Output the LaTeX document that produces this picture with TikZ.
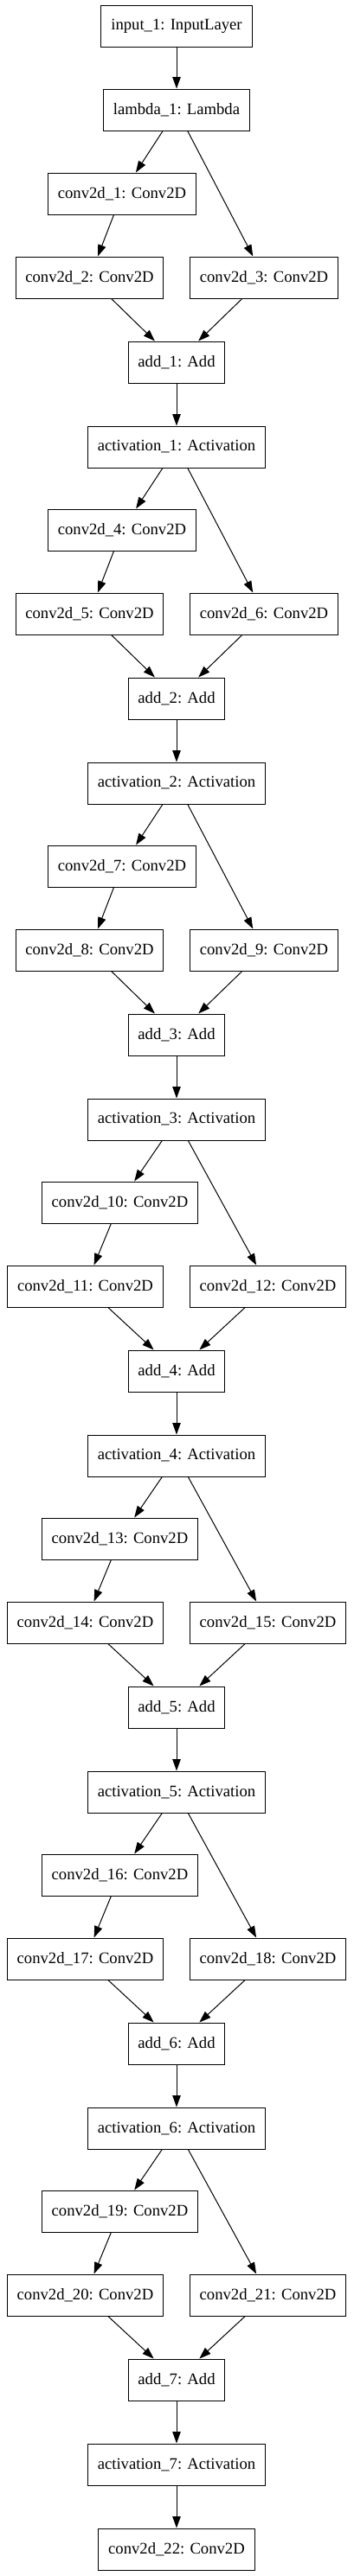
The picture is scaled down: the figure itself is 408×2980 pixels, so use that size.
\documentclass[tikz,border=0pt]{standalone}
\usepackage{fontspec}
\setmainfont{Liberation Serif}
\usetikzlibrary{arrows.meta}

\begin{document}
\begin{tikzpicture}[x=0.75pt,y=-0.75pt,
  layer/.style={draw,line width=0.75pt,minimum height=36pt,inner xsep=8.5pt,
    font=\fontsize{14}{16}\selectfont},
  flow/.style={line width=0.75pt,-{Triangle[length=10pt,width=7pt]}}]
  \useasboundingbox (0,0) rectangle (408,2980);
  % input and lambda
  \node[layer] (in1) at (204,30) {input\_1: InputLayer};
  \node[layer] (lam1) at (204,127) {lambda\_1: Lambda};
  % block 1
  \node[layer] (conv1) at (141,224) {conv2d\_1: Conv2D};
  \node[layer] (conv2) at (103.5,321) {conv2d\_2: Conv2D};
  \node[layer] (conv3) at (305,321) {conv2d\_3: Conv2D};
  \node[layer] (add1) at (204,419) {add\_1: Add};
  \node[layer] (act1) at (204,517) {activation\_1: Activation};
  % block 2
  \node[layer] (conv4) at (141,613) {conv2d\_4: Conv2D};
  \node[layer] (conv5) at (103.5,710) {conv2d\_5: Conv2D};
  \node[layer] (conv6) at (305,710) {conv2d\_6: Conv2D};
  \node[layer] (add2) at (204,808) {add\_2: Add};
  \node[layer] (act2) at (204,906) {activation\_2: Activation};
  % block 3
  \node[layer] (conv7) at (141,1002) {conv2d\_7: Conv2D};
  \node[layer] (conv8) at (103.5,1099) {conv2d\_8: Conv2D};
  \node[layer] (conv9) at (305,1099) {conv2d\_9: Conv2D};
  \node[layer] (add3) at (204,1197) {add\_3: Add};
  \node[layer] (act3) at (204,1295) {activation\_3: Activation};
  % block 4
  \node[layer] (conv10) at (138.5,1391) {conv2d\_10: Conv2D};
  \node[layer] (conv11) at (98.5,1488) {conv2d\_11: Conv2D};
  \node[layer] (conv12) at (309.5,1488) {conv2d\_12: Conv2D};
  \node[layer] (add4) at (204,1586) {add\_4: Add};
  \node[layer] (act4) at (204,1684) {activation\_4: Activation};
  % block 5
  \node[layer] (conv13) at (138.5,1780) {conv2d\_13: Conv2D};
  \node[layer] (conv14) at (98.5,1877) {conv2d\_14: Conv2D};
  \node[layer] (conv15) at (309.5,1877) {conv2d\_15: Conv2D};
  \node[layer] (add5) at (204,1975) {add\_5: Add};
  \node[layer] (act5) at (204,2073) {activation\_5: Activation};
  % block 6
  \node[layer] (conv16) at (138.5,2169) {conv2d\_16: Conv2D};
  \node[layer] (conv17) at (98.5,2266) {conv2d\_17: Conv2D};
  \node[layer] (conv18) at (309.5,2266) {conv2d\_18: Conv2D};
  \node[layer] (add6) at (204,2364) {add\_6: Add};
  \node[layer] (act6) at (204,2462) {activation\_6: Activation};
  % block 7
  \node[layer] (conv19) at (138.5,2558) {conv2d\_19: Conv2D};
  \node[layer] (conv20) at (98.5,2655) {conv2d\_20: Conv2D};
  \node[layer] (conv21) at (309.5,2655) {conv2d\_21: Conv2D};
  \node[layer] (add7) at (204,2753) {add\_7: Add};
  \node[layer] (act7) at (204,2851) {activation\_7: Activation};
  \node[layer] (conv22) at (204,2949) {conv2d\_22: Conv2D};
  % connections
  \draw[flow] (in1) -- (lam1);
  \draw[flow] (lam1) -- (conv1);
  \draw[flow] (lam1) -- (conv3);
  \draw[flow] (conv1) -- (conv2);
  \draw[flow] (conv2) -- (add1);
  \draw[flow] (conv3) -- (add1);
  \draw[flow] (add1) -- (act1);
  \draw[flow] (act1) -- (conv4);
  \draw[flow] (act1) -- (conv6);
  \draw[flow] (conv4) -- (conv5);
  \draw[flow] (conv5) -- (add2);
  \draw[flow] (conv6) -- (add2);
  \draw[flow] (add2) -- (act2);
  \draw[flow] (act2) -- (conv7);
  \draw[flow] (act2) -- (conv9);
  \draw[flow] (conv7) -- (conv8);
  \draw[flow] (conv8) -- (add3);
  \draw[flow] (conv9) -- (add3);
  \draw[flow] (add3) -- (act3);
  \draw[flow] (act3) -- (conv10);
  \draw[flow] (act3) -- (conv12);
  \draw[flow] (conv10) -- (conv11);
  \draw[flow] (conv11) -- (add4);
  \draw[flow] (conv12) -- (add4);
  \draw[flow] (add4) -- (act4);
  \draw[flow] (act4) -- (conv13);
  \draw[flow] (act4) -- (conv15);
  \draw[flow] (conv13) -- (conv14);
  \draw[flow] (conv14) -- (add5);
  \draw[flow] (conv15) -- (add5);
  \draw[flow] (add5) -- (act5);
  \draw[flow] (act5) -- (conv16);
  \draw[flow] (act5) -- (conv18);
  \draw[flow] (conv16) -- (conv17);
  \draw[flow] (conv17) -- (add6);
  \draw[flow] (conv18) -- (add6);
  \draw[flow] (add6) -- (act6);
  \draw[flow] (act6) -- (conv19);
  \draw[flow] (act6) -- (conv21);
  \draw[flow] (conv19) -- (conv20);
  \draw[flow] (conv20) -- (add7);
  \draw[flow] (conv21) -- (add7);
  \draw[flow] (add7) -- (act7);
  \draw[flow] (act7) -- (conv22);
\end{tikzpicture}
\end{document}
